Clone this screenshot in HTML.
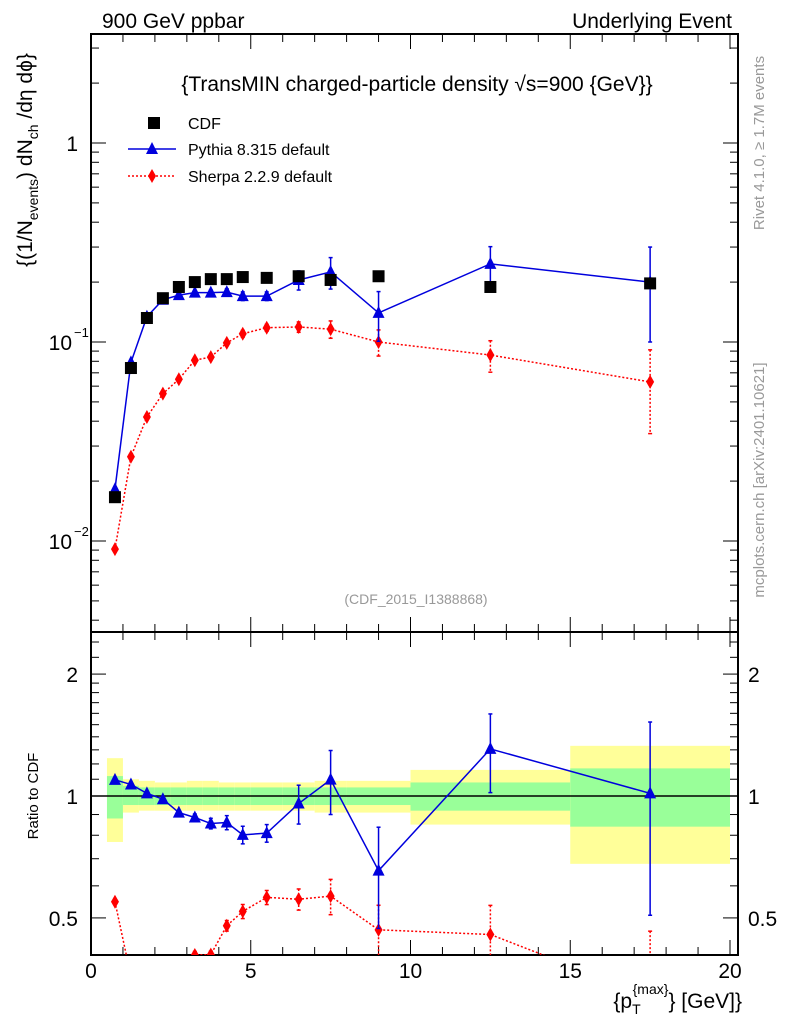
<!DOCTYPE html>
<html><head><meta charset="utf-8"><style>
html,body{margin:0;padding:0;background:#fff;width:786px;height:1024px;overflow:hidden}
svg{display:block;font-family:"Liberation Sans",sans-serif}
</style></head><body>
<svg id="c" width="786" height="1024" viewBox="0 0 786 1024">
<g id="bands"></g><g id="grid"></g><g id="marks"></g><g id="txt"></g>
</svg>
<script>
const xVals=[0.75,1.25,1.75,2.25,2.75,3.25,3.75,4.25,4.75,5.5,6.5,7.5,9,12.5,17.5];
const binLo=[0.5,1,1.5,2,2.5,3,3.5,4,4.5,5,6,7,8,10,15];
const binHi=[1,1.5,2,2.5,3,3.5,4,4.5,5,6,7,8,10,15,20];
const cdfVals=[0.0166,0.074,0.132,0.166,0.189,0.200,0.207,0.207,0.212,0.210,0.214,0.205,0.214,0.189,0.197];
const pyVals=[0.0182,0.079,0.134,0.163,0.172,0.177,0.177,0.178,0.170,0.170,0.205,0.225,0.140,0.247,0.200];
const pyErr=[0.01,0.01,0.01,0.01,0.01,0.02,0.03,0.04,0.05,0.05,0.11,0.18,0.28,0.22,0.5];
const shVals=[0.0091,0.0265,0.042,0.055,0.065,0.081,0.084,0.099,0.110,0.118,0.119,0.116,0.100,0.086,0.063];
const shErr=[0.01,0.01,0.01,0.01,0.01,0.02,0.02,0.03,0.04,0.04,0.06,0.1,0.15,0.18,0.45];
const yelUp=[1.24,1.10,1.09,1.08,1.08,1.09,1.09,1.08,1.08,1.08,1.08,1.09,1.09,1.16,1.33];
const yelDn=[0.77,0.91,0.92,0.92,0.92,0.92,0.92,0.92,0.92,0.92,0.92,0.91,0.91,0.85,0.68];
const grnUp=[1.12,1.06,1.05,1.05,1.05,1.05,1.05,1.05,1.05,1.05,1.05,1.05,1.05,1.08,1.17];
const grnDn=[0.88,0.95,0.95,0.95,0.95,0.95,0.95,0.95,0.95,0.95,0.95,0.95,0.95,0.92,0.84];
const xTicks=[0,5,10,15,20];

const NS="http://www.w3.org/2000/svg";
const L=91,R=738,T=34,MB=632,RB=955;
const X=v=>L+v*31.95;
const Ym=v=>143-199*Math.log10(v);
const Yr=v=>796-405*Math.log10(v);
function mk(tag,attrs,parent){const e=document.createElementNS(NS,tag);for(const k in attrs)e.setAttribute(k,attrs[k]);document.getElementById(parent).appendChild(e);return e;}
function txt(s,x,y,attrs){const e=mk('text',Object.assign({x:x,y:y},attrs),'txt');e.textContent=s;return e;}

for(let i=0;i<binLo.length;i++){
 const y=mk('rect',{x:X(binLo[i]),y:Yr(yelUp[i]),width:X(binHi[i])-X(binLo[i]),height:Yr(yelDn[i])-Yr(yelUp[i]),fill:'#ffff99'},'bands');
 
 
 const g=mk('rect',{x:X(binLo[i]),y:Yr(grnUp[i]),width:X(binHi[i])-X(binLo[i]),height:Yr(grnDn[i])-Yr(grnUp[i]),fill:'#99ff99'},'bands');
 
 
}
mk('rect',{x:L,y:T,width:R-L,height:MB-T,fill:'none',stroke:'#000','stroke-width':2},'grid');
mk('rect',{x:L,y:MB,width:R-L,height:RB-MB,fill:'none',stroke:'#000','stroke-width':2},'grid');
mk('line',{x1:L,x2:R,y1:796,y2:796,stroke:'#000','stroke-width':1.5},'grid');
for(let v=0;v<=20.2;v+=1){
 const len=v%5===0?15:8;
 [[T,1],[MB,-1],[MB,1],[RB,-1]].forEach(([y,d])=>mk('line',{x1:X(v),x2:X(v),y1:y,y2:y+d*len,stroke:'#000','stroke-width':1},'grid'));
}
xTicks.forEach(v=>{const t=txt(String(v),X(v),978,{'font-size':21,'text-anchor':'middle'});});
for(let d=-3;d<=0;d++)for(let m=1;m<10;m++){
 const v=m*Math.pow(10,d);const y=Ym(v);if(y<T||y>MB)continue;
 const len=m===1?15:8;
 mk('line',{x1:L,x2:L+len,y1:y,y2:y,stroke:'#000'},'grid');
 mk('line',{x1:R,x2:R-len,y1:y,y2:y,stroke:'#000'},'grid');
}
txt('1',78,151,{'font-size':21,'text-anchor':'end'});
txt('10',72,350,{'font-size':21,'text-anchor':'end'});
txt('−1',74,337,{'font-size':13});
txt('10',72,549,{'font-size':21,'text-anchor':'end'});
txt('−2',74,536,{'font-size':13});
[0.5,0.6,0.7,0.8,0.9,1,1.1,1.2,1.3,1.4,1.5,1.6,1.7,1.8,1.9,2,2.2,2.4].forEach(v=>{
 const y=Yr(v);const len=(v===0.5||v===1||v===2)?15:8;
 mk('line',{x1:L,x2:L+len,y1:y,y2:y,stroke:'#000'},'grid');
 mk('line',{x1:R,x2:R-len,y1:y,y2:y,stroke:'#000'},'grid');
});
[['2',Yr(2)],['1',Yr(1)],['0.5',Yr(0.5)]].forEach(([s,y])=>{
 txt(s,78,y+8,{'font-size':21,'text-anchor':'end'});
 txt(s,748,y+8,{'font-size':21});
});

const defs=mk('defs',{},'marks');
const cp1=document.createElementNS(NS,'clipPath');cp1.id='cm';defs.appendChild(cp1);
const r1=document.createElementNS(NS,'rect');r1.setAttribute('x',L);r1.setAttribute('y',T);r1.setAttribute('width',R-L);r1.setAttribute('height',MB-T);cp1.appendChild(r1);
const cp2=document.createElementNS(NS,'clipPath');cp2.id='cr';defs.appendChild(cp2);
const r2=document.createElementNS(NS,'rect');r2.setAttribute('x',L);r2.setAttribute('y',MB);r2.setAttribute('width',R-L);r2.setAttribute('height',RB-MB);cp2.appendChild(r2);
mk('g',{'clip-path':'url(#cm)',id:'gm'},'marks');
mk('g',{'clip-path':'url(#cr)',id:'gr'},'marks');

function tri(x,y,col,par){return mk('polygon',{points:`${x},${y-7} ${x-6},${y+5} ${x+6},${y+5}`,fill:col},par);}
function dia(x,y,col,par){return mk('polygon',{points:`${x},${y-7} ${x-4},${y} ${x},${y+7} ${x+4},${y}`,fill:col},par);}
function series(vals,err,Y,col,dash,shape,par,name,top,bot){
 const C=y=>Math.min(Math.max(y,top-20),bot+20);
 const pts=vals.map((v,i)=>X(xVals[i])+','+Y(v)).join(' ');
 const pl=mk('polyline',{points:pts,fill:'none',stroke:col,'stroke-width':1.5,'stroke-dasharray':dash},par);
 
 
 vals.forEach((v,i)=>{
  const x=X(xVals[i]);
  const y1=C(Y(v*(1+err[i]))),y2=C(Y(Math.max(v*(1-err[i]),1e-4)));
  mk('line',{x1:x,x2:x,y1:y1,y2:y2,stroke:col,'stroke-width':1.5,'stroke-dasharray':dash},par);
  mk('line',{x1:x-2,x2:x+2,y1:y1,y2:y1,stroke:col,'stroke-width':1.5},par);
  mk('line',{x1:x-2,x2:x+2,y1:y2,y2:y2,stroke:col,'stroke-width':1.5},par);
  const m=shape(x,Y(v),col,par);
  
  
 });
}
series(shVals,shErr,Ym,'#ff0000','2,2',dia,'gm','sherpa',T,MB);
series(pyVals,pyErr,Ym,'#0000dd','',tri,'gm','pythia',T,MB);
cdfVals.forEach((v,i)=>{const s=mk('rect',{x:X(xVals[i])-6,y:Ym(v)-6,width:12,height:12,fill:'#000'},'gm');
 
 });
series(shVals.map((v,i)=>v/cdfVals[i]),shErr,Yr,'#ff0000','2,2',dia,'gr','sherpa-ratio',MB,RB);
series(pyVals.map((v,i)=>v/cdfVals[i]),pyErr,Yr,'#0000dd','',tri,'gr','pythia-ratio',MB,RB);

mk('rect',{x:148,y:117,width:12,height:12,fill:'#000'},'txt');
mk('line',{x1:128,x2:176,y1:149,y2:149,stroke:'#0000dd','stroke-width':1.5},'txt');
tri(152,149,'#0000dd','txt');
mk('line',{x1:128,x2:176,y1:176,y2:176,stroke:'#ff0000','stroke-width':1.5,'stroke-dasharray':'2,2'},'txt');
dia(152,176,'#ff0000','txt');
txt('CDF',188,129,{'font-size':16});
txt('Pythia 8.315 default',188,155,{'font-size':16});
txt('Sherpa 2.2.9 default',188,182,{'font-size':16});

txt('900 GeV ppbar',102,28,{'font-size':21});
txt('Underlying Event',732,28,{'font-size':21,'text-anchor':'end'});
txt('{TransMIN charged-particle density √s=900 {GeV}}',417,91,{'font-size':21,'text-anchor':'middle'});
txt('(CDF_2015_I1388868)',416,604,{'font-size':14,'text-anchor':'middle',fill:'#999'});
txt('Rivet 4.1.0, ≥ 1.7M events',764,143,{'font-size':15,fill:'#999','text-anchor':'middle',transform:'rotate(-90 764 143)'});
txt('mcplots.cern.ch [arXiv:2401.10621]',764,480,{'font-size':15,fill:'#999','text-anchor':'middle',transform:'rotate(-90 764 480)'});
const yl=txt('',32,160,{'font-size':21,'text-anchor':'middle',transform:'rotate(-90 32 160)'});
yl.innerHTML='{(1/N<tspan font-size="14" dy="6">events</tspan><tspan dy="-6">) dN</tspan><tspan font-size="14" dy="6">ch</tspan><tspan dy="-6"> /dη  dϕ}</tspan>';

txt('Ratio to CDF',38,796,{'font-size':15,'text-anchor':'middle',transform:'rotate(-90 38 796)'});
const xl=txt('',742,1008,{'font-size':21,'text-anchor':'end'});
xl.innerHTML='{p<tspan font-size="14" dy="6">T</tspan><tspan font-size="14" dy="-20" dx="-8">{max}</tspan><tspan dy="14">} [GeV]}</tspan>';

</script>
</body></html>
